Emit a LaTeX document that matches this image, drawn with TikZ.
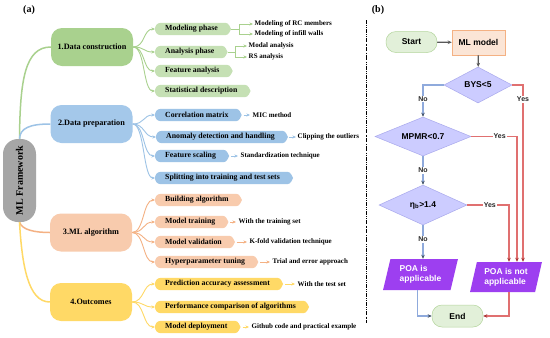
\documentclass[tikz,border=0pt]{standalone}
\usepackage{fontspec}
\usepackage{graphicx}
\setmainfont{Liberation Serif}
\newfontfamily\arialf{Liberation Sans}
\usetikzlibrary{shapes.geometric,shapes.misc,arrows.meta,calc,backgrounds}
\definecolor{gM}{HTML}{A9D18E}
\definecolor{gS}{HTML}{C5E0B4}
\definecolor{bM}{HTML}{A4C8EA}
\definecolor{bS}{HTML}{9DC3E6}
\definecolor{sM}{HTML}{F8CBAD}
\definecolor{yM}{HTML}{FFD966}
\definecolor{grF}{HTML}{A6A6A6}
\definecolor{gL}{HTML}{A9D18E}
\definecolor{bL}{HTML}{9DC3E6}
\definecolor{sL}{HTML}{F4B183}
\definecolor{yL}{HTML}{FFD966}
\definecolor{fcG}{HTML}{E2F0D9}
\definecolor{fcGd}{HTML}{B5D69E}
\definecolor{fcO}{HTML}{FBE5D6}
\definecolor{fcOd}{HTML}{F4B183}
\definecolor{fcD}{HTML}{CCCCFF}
\definecolor{fcDd}{HTML}{A9A9EC}
\definecolor{fcP}{HTML}{9D3FF0}
\definecolor{lnR}{HTML}{E07070}
\definecolor{lnRd}{HTML}{A83232}
\definecolor{lnB}{HTML}{8FAADC}
\definecolor{lnBd}{HTML}{44546A}
\definecolor{lnD}{HTML}{595959}
\newcommand\leafshape[2]{\fill[#2] (#1.north west) -- (#1.north east) .. controls ($(#1.north east)+(6,0)$) .. ($(#1.east)+(9,0)$) .. controls ($(#1.south east)+(6,0)$) .. (#1.south east) -- (#1.south west) .. controls ($(#1.south west)+(-8,0)$) and ($(#1.north west)+(-8,0)$) .. (#1.north west) -- cycle;}
\begin{document}
\begin{tikzpicture}[x=1pt,y=-1pt,
  mainbox/.style={rounded corners=11pt, minimum width=82pt, minimum height=38pt, inner sep=2pt, font=\bfseries\fontsize{8.2}{9}\selectfont},
  subbox/.style={anchor=west, inner xsep=4pt, inner ysep=0pt, minimum height=12pt, font=\bfseries\fontsize{7.8}{9}\selectfont},
  leafnote/.style={anchor=west, inner sep=0.5pt, font=\bfseries\fontsize{7}{8}\selectfont},
  tipa/.style={-{Stealth[length=3.5pt,width=3pt]}, line width=0.9pt},
  plain/.style={line width=0.9pt},
  fcfont/.style={font=\arialf\bfseries\fontsize{8.5}{10}\selectfont},
  term/.style={fcfont, rounded corners=10pt, fill=fcG, draw=fcGd, line width=0.5pt, minimum width=51pt, minimum height=21pt},
  procbox/.style={fcfont, fill=fcO, draw=fcOd, line width=0.5pt, minimum width=53pt, minimum height=25pt},
  dia/.style={fcfont, diamond, aspect=2, inner sep=1pt, fill=fcD, draw=fcDd, line width=0.5pt},
  para/.style={fcfont, trapezium, trapezium left angle=75, trapezium right angle=105, trapezium stretches=true, align=left, text=white, fill=fcP, inner sep=1pt},
  lbl/.style={font=\arialf\bfseries\fontsize{7}{8}\selectfont, fill=white, inner sep=1pt, text=black!85},
  darr/.style={draw=lnD, line width=1.2pt, -{Stealth[length=4pt,width=3.5pt]}},
  barr/.style={draw=lnB, line width=1.2pt, -{Stealth[length=4pt,width=3.5pt,color=lnBd]}},
  rarr/.style={draw=lnR, line width=1.4pt, -{Stealth[length=4pt,width=3.5pt,color=lnRd]}},
]
\useasboundingbox (0,0) rectangle (550,338);
\begin{scope}[on background layer]
\fill[white] (0,0) rectangle (550,338);
\end{scope}

% panel labels
\node[font=\bfseries\fontsize{10}{12}\selectfont] (la) at (29,10) {(a)};
\node[font=\bfseries\fontsize{10}{12}\selectfont] (lb) at (378,10) {(b)};

% separator
\draw[line width=0.6pt, dash pattern=on 4pt off 1.3pt on 0.6pt off 1.3pt on 0.6pt off 1.3pt] (366,20) -- (366,323);

% ---------- (a) ----------
\node[fill=grF, rounded corners=15pt, minimum width=33pt, minimum height=83pt, inner sep=0pt, font=\bfseries\fontsize{10}{12}\selectfont] (fw) at (19.5,180.5) {\rotatebox{90}{ML Framework}};

\node[mainbox, fill=gM] (c1) at (92,47) {1.Data construction};
\node[mainbox, fill=bM] (c2) at (91.5,124) {2.Data preparation};
\node[mainbox, fill=sM] (c3) at (91,232.5) {3.ML algorithm};
\node[mainbox, fill=yM] (c4) at (91,302) {4.Outcomes};

\draw[gL, line width=1.5pt] (fw.north) .. controls (20,80) and (25,47) .. (c1.west);
\draw[bL, line width=1.5pt] (fw.north) .. controls (20,128) and (30,124) .. (c2.west);
\draw[sL, line width=1.5pt] (fw.south) .. controls (22,230) and (35,232.5) .. (c3.west);
\draw[yL, line width=1.5pt] (fw.south) .. controls (22,265) and (28,302) .. (c4.west);

% sub nodes
\node[subbox] (m11) at (161,29) {Modeling phase};
\node[subbox] (m12) at (161,52) {Analysis phase};
\node[subbox] (m13) at (161,71) {Feature analysis};
\node[subbox] (m14) at (161,91) {Statistical description};
\node[subbox] (m21) at (161,115) {Correlation matrix};
\node[subbox] (m22) at (162,137) {Anomaly detection and handling};
\node[subbox] (m23) at (161,156) {Feature scaling};
\node[subbox] (m24) at (161,178) {Splitting into training and test sets};
\node[subbox] (m31) at (161,200) {Building algorithm};
\node[subbox] (m32) at (161,222) {Model training};
\node[subbox] (m33) at (161,242) {Model validation};
\node[subbox] (m34) at (161,262) {Hyperparameter tuning};
\node[subbox] (m41) at (161,284) {Prediction accuracy assessment};
\node[subbox] (m42) at (161,307) {Performance comparison of algorithms};
\node[subbox] (m43) at (161,327) {Model deployment};

\begin{scope}[on background layer]
\foreach \s in {m11,m12,m13,m14} {\leafshape{\s}{gS}}
\foreach \s in {m21,m22,m23,m24} {\leafshape{\s}{bS}}
\foreach \s in {m31,m32,m33,m34} {\leafshape{\s}{sM}}
\foreach \s in {m41,m42,m43} {\leafshape{\s}{yM}}
\end{scope}

\foreach \s in {m11,m12,m13,m14} \draw[gL, tipa] (c1.east) .. controls +(12,0) and +(-12,0) .. ($(\s.west)+(-6,0)$);
\foreach \s in {m21,m22,m23,m24} \draw[bL, tipa] (c2.east) .. controls +(12,0) and +(-12,0) .. ($(\s.west)+(-6,0)$);
\foreach \s in {m31,m32,m33,m34} \draw[sL, tipa] (c3.east) .. controls +(12,0) and +(-12,0) .. ($(\s.west)+(-6,0)$);
\foreach \s in {m41,m42,m43} \draw[yL, tipa] (c4.east) .. controls +(12,0) and +(-12,0) .. ($(\s.west)+(-6,0)$);

% third level
\node[leafnote] (t111) at (254,24) {Modeling of RC members};
\node[leafnote] (t112) at (254,34) {Modeling of infill walls};
\node[leafnote] (t121) at (248,46) {Modal analysis};
\node[leafnote] (t122) at (248,57) {RS analysis};
\node[leafnote] (t21) at (252,115) {MIC method};
\node[leafnote] (t22) at (297,137) {Clipping the outliers};
\node[leafnote] (t23) at (240,156) {Standardization technique};
\node[leafnote] (t32) at (238,222) {With the training set};
\node[leafnote] (t33) at (249,242) {K-fold validation technique};
\node[leafnote] (t34) at (272,262) {Trial and error approach};
\node[leafnote] (t41) at (297,284) {With the test set};
\node[leafnote] (t43) at (251,327) {Github code and practical example};

\coordinate (k1) at ($(m11.east)+(17,0)$);
\coordinate (k2) at ($(m12.east)+(17,0)$);
\draw[gL, plain] ($(m11.east)+(9,0)$) -- (k1);
\draw[gL, tipa, shorten >=1pt] (k1) |- (t111.west);
\draw[gL, tipa, shorten >=1pt] (k1) |- (t112.west);
\draw[gL, plain] ($(m12.east)+(9,0)$) -- (k2);
\draw[gL, tipa, shorten >=1pt] (k2) |- (t121.west);
\draw[gL, tipa, shorten >=1pt] (k2) |- (t122.west);

\draw[bL, tipa, shorten <=2pt, shorten >=2pt] ($(m21.east)+(9,0)$) -- (t21.west);
\draw[bL, tipa, shorten <=1pt, shorten >=1pt] ($(m22.east)+(9,0)$) -- (t22.west);
\draw[bL, tipa, shorten <=2pt, shorten >=2pt] ($(m23.east)+(9,0)$) -- (t23.west);
\draw[sL, tipa, shorten <=2pt, shorten >=2pt] ($(m32.east)+(9,0)$) -- (t32.west);
\draw[sL, tipa, shorten <=2pt, shorten >=2pt] ($(m33.east)+(9,0)$) -- (t33.west);
\draw[sL, tipa, shorten <=2pt, shorten >=2pt] ($(m34.east)+(9,0)$) -- (t34.west);
\draw[yL, tipa, shorten <=2pt, shorten >=2pt] ($(m41.east)+(9,0)$) -- (t41.west);
\draw[yL, tipa, shorten <=2pt, shorten >=2pt] ($(m43.east)+(9,0)$) -- (t43.west);

% ---------- (b) ----------
\node[term] (start) at (411.5,42) {Start};
\node[procbox] (mlm) at (478.5,42.5) {ML model};
\node[dia, minimum width=68pt, minimum height=36pt] (bys) at (478,85) {BYS<5};
\node[dia, minimum width=96pt, minimum height=39pt] (mpmr) at (423,136.5) {MPMR<0.7};
\node[dia, minimum width=88pt, minimum height=40pt] (eta) at (423,205) {η\textsubscript{b}>1.4};
\node[para, minimum width=75pt, minimum height=31pt] (poa1) at (420.5,274.5) {POA is\\applicable};
\node[para, minimum width=72pt, minimum height=30pt] (poa2) at (506,277) {POA is not\\applicable};
\node[term, minimum height=22pt] (endn) at (457.5,316) {End};

\draw[darr] (start) -- (mlm);
\draw[darr] (mlm) -- (bys);
\draw[barr] (bys.west) -| node[lbl, pos=0.72] {No} (mpmr.north);
\draw[barr] (mpmr.south) -- node[lbl] {No} (eta.north);
\draw[barr] (eta.south) -- node[lbl, pos=0.42] {No} (eta.south |- poa1.north);
\draw[rarr] (bys.east) -| node[lbl, pos=0.54] {Yes} ($(poa2.north)+(17,0)$);
\draw[rarr] (mpmr.east) -| node[lbl, pos=0.31] {Yes} ($(poa2.north)+(11,0)$);
\draw[rarr] (eta.east) -| node[lbl, pos=0.27] {Yes} ($(poa2.north)+(3,0)$);
\draw[barr] ($(poa1.south)+(-3,0)$) |- (endn.west);
\draw[rarr] ($(poa2.south)+(3,0)$) |- (endn.east);
\end{tikzpicture}
\end{document}
